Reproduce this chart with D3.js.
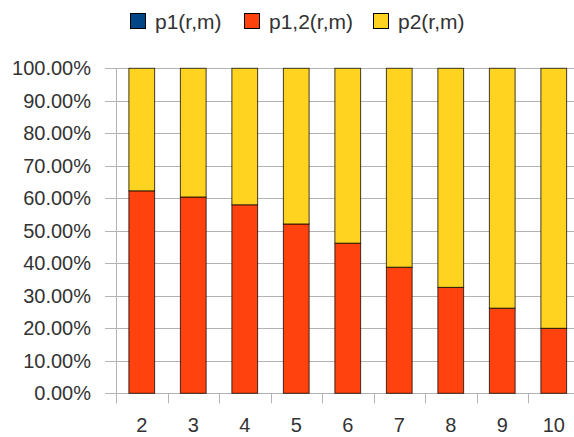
<!DOCTYPE html>
<html><head><meta charset="utf-8">
<script src="https://cdn.jsdelivr.net/npm/d3@7"></script>
<style>body{margin:0;background:#fff}svg{display:block}</style>
</head><body>
<script>
const categories = ["2","3","4","5","6","7","8","9","10"];
const p1 = [0,0,0,0,0,0,0,0,0];
const p12 = [62.3,60.4,58.0,52.1,46.2,38.8,32.6,26.2,20.0];
const p2 = p12.map((v,i)=>100 - v - p1[i]);
const seriesNames = ["p1(r,m)","p1,2(r,m)","p2(r,m)"];
const colors = ["#004586","#ff420e","#ffd320"];
const yTicks = [0,10,20,30,40,50,60,70,80,90,100];

const W=574,H=437;
const svg=d3.select("body").append("svg").attr("width",W).attr("height",H);
const x=d3.scaleBand().domain(categories).range([116,579.5]).paddingInner(0).paddingOuter(0);
const y=d3.scaleLinear().domain([0,100]).range([393.3,68.3]);
const font="Liberation Sans, Arial, sans-serif";

// grid
svg.append("g").selectAll("line").data(yTicks).join("line")
 .attr("x1",105).attr("x2",W).attr("y1",d=>Math.round(y(d))+0.5).attr("y2",d=>Math.round(y(d))+0.5)
 .attr("stroke","#b3b3b3").attr("stroke-width",1);
// y axis line
svg.append("line").attr("x1",116.5).attr("x2",116.5).attr("y1",y(100)).attr("y2",y(0)+10)
 .attr("stroke","#b3b3b3");
// x ticks
svg.append("g").selectAll("line").data(categories.slice(1)).join("line")
 .attr("x1",d=>Math.round(x(d))+0.5).attr("x2",d=>Math.round(x(d))+0.5)
 .attr("y1",y(0)).attr("y2",y(0)+10).attr("stroke","#b3b3b3");

// y labels
svg.append("g").selectAll("text").data(yTicks).join("text")
 .attr("x",91).attr("y",d=>y(d)).attr("dy","0.35em").attr("text-anchor","end")
 .attr("font-family",font).attr("font-size",20).attr("fill","#333")
 .text(d=>d.toFixed(2)+"%");
// x labels
svg.append("g").selectAll("text").data(categories).join("text")
 .attr("x",d=>x(d)+x.bandwidth()/2).attr("y",432).attr("text-anchor","middle")
 .attr("font-family",font).attr("font-size",20).attr("fill","#333").text(d=>d);

// stacked bars
const rows=categories.map((c,i)=>({cat:c,s0:p1[i],s1:p12[i],s2:p2[i]}));
const stack=d3.stack().keys(["s0","s1","s2"])(rows);
const bw=x.bandwidth()*0.5;
stack.forEach((layer,li)=>{
  svg.append("g").selectAll("rect").data(layer.filter(d=>d[1]-d[0]>0)).join("rect")
   .attr("x",d=>x(d.data.cat)+x.bandwidth()/2-bw/2)
   .attr("y",d=>y(d[1])).attr("width",bw).attr("height",d=>y(d[0])-y(d[1]))
   .attr("fill",colors[li]).attr("stroke","#000").attr("stroke-opacity",0.75).attr("stroke-width",1);
});

// legend
const lx=[130,244,373];
const lg=svg.append("g");
seriesNames.forEach((n,i)=>{
  lg.append("rect").attr("x",lx[i]+0.5).attr("y",13.5).attr("width",15).attr("height",15)
   .attr("fill",colors[i]).attr("stroke","#000").attr("stroke-width",1);
  lg.append("text").attr("x",lx[i]+25).attr("y",29).attr("font-family",font).attr("font-size",21)
   .attr("fill","#333").text(n);
});
</script>
</body></html>
